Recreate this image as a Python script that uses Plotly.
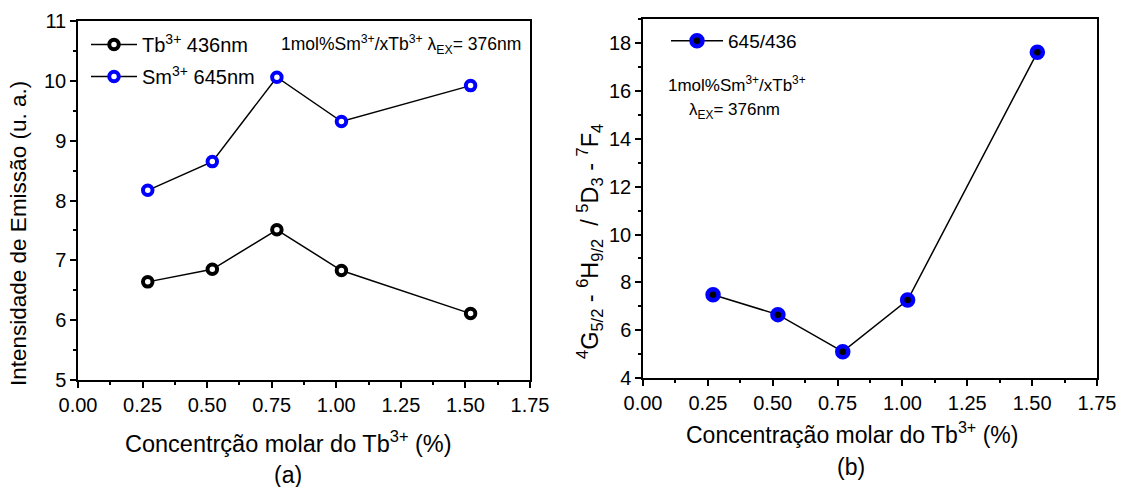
import plotly.graph_objects as go

# Tb3+ molar concentration (%)
conc = [0.27, 0.52, 0.77, 1.02, 1.52]
# Emission intensity (a.u.) for each band
tb_436 = [6.64, 6.85, 7.51, 6.83, 6.11]
sm_645 = [8.17, 8.65, 10.06, 9.32, 9.92]
# Intensity ratio 645 nm / 436 nm
ratio_645_436 = [7.48, 6.65, 5.10, 7.26, 17.62]

x_tick_vals = [0.0, 0.25, 0.5, 0.75, 1.0, 1.25, 1.5, 1.75]
x_tick_text = ["0.00", "0.25", "0.50", "0.75", "1.00", "1.25", "1.50", "1.75"]

W, H = 1125, 487
FONT = "Liberation Sans, Arial, sans-serif"


def px_x(p):
    return p / W


def px_y(p):
    return 1 - p / H


LX = [px_x(78), px_x(530)]
LY = [px_y(380), px_y(21)]
RX = [px_x(643), px_x(1097)]
RY = [px_y(378), px_y(19.3)]

fig = go.Figure()

fig.add_trace(go.Scatter(
    x=conc, y=tb_436, mode="lines+markers", name="Tb<sup>3+</sup> 436nm",
    line=dict(color="black", width=1.5),
    marker=dict(symbol="circle", size=9.5, color="white", line=dict(color="black", width=4)),
    xaxis="x", yaxis="y", legend="legend", legendgroup="tb",
))
fig.add_trace(go.Scatter(
    x=conc, y=sm_645, mode="lines+markers", name="Sm<sup>3+</sup> 645nm",
    line=dict(color="black", width=1.5),
    marker=dict(symbol="circle", size=9.5, color="white", line=dict(color="#0000ff", width=4)),
    xaxis="x", yaxis="y", legend="legend", legendgroup="sm",
))
fig.add_trace(go.Scatter(
    x=conc, y=ratio_645_436, mode="lines+markers", name="645/436",
    line=dict(color="black", width=1.5),
    marker=dict(symbol="circle", size=11, color="black", line=dict(color="#0000ff", width=4.5)),
    xaxis="x2", yaxis="y2", legend="legend2",
))

tick_font = dict(family=FONT, size=20, color="black")


def main_axis(domain, anchor, rng, dtick, minor_dtick, **kw):
    d = dict(
        domain=domain, anchor=anchor, range=rng, automargin=False,
        showline=True, linecolor="black", linewidth=1.5, mirror=True,
        ticks="outside", ticklen=6, tickwidth=1.5, tickcolor="black",
        minor=dict(ticks="outside", ticklen=3.5, tickwidth=1.5, tickcolor="black",
                   dtick=minor_dtick),
        showgrid=False, zeroline=False, tickfont=tick_font,
    )
    if dtick is not None:
        d.update(dtick=dtick, tick0=rng[0])
    d.update(kw)
    return d


def mirror_axis(overlay, anchor, side, rng, dtick, minor_dtick):
    return dict(
        overlaying=overlay, anchor=anchor, side=side, range=rng, automargin=False,
        showline=False, showgrid=False, zeroline=False, showticklabels=False,
        ticks="inside", ticklen=6, tickwidth=1.5, tickcolor="black",
        tickmode="linear", tick0=rng[0], dtick=dtick,
        minor=dict(ticks="inside", ticklen=3.5, tickwidth=1.5, tickcolor="black",
                   dtick=minor_dtick),
    )


fig.update_layout(
    width=W, height=H,
    margin=dict(l=0, r=0, t=0, b=0, autoexpand=False),
    paper_bgcolor="white", plot_bgcolor="white",
    font=dict(family=FONT, color="black"),
    xaxis=main_axis(LX, "y", [0, 1.75], None, 0.125,
                    tickmode="array", tickvals=x_tick_vals, ticktext=x_tick_text),
    yaxis=main_axis(LY, "x", [5, 11], 1, 0.5),
    xaxis2=main_axis(RX, "y2", [0, 1.75], None, 0.125,
                     tickmode="array", tickvals=x_tick_vals, ticktext=x_tick_text),
    yaxis2=main_axis(RY, "x2", [4, 19], 2, 1),
    xaxis3=mirror_axis("x", "y", "top", [0, 1.75], 0.25, 0.125),
    yaxis3=mirror_axis("y", "x", "right", [5, 11], 1, 0.5),
    xaxis4=mirror_axis("x2", "y2", "top", [0, 1.75], 0.25, 0.125),
    yaxis4=mirror_axis("y2", "x2", "right", [4, 19], 2, 1),
    legend=dict(x=px_x(86), y=px_y(25), xanchor="left", yanchor="top",
                bgcolor="rgba(0,0,0,0)", font=dict(family=FONT, size=20),
                itemwidth=46, traceorder="grouped", tracegroupgap=3),
    legend2=dict(x=px_x(666), y=px_y(22), xanchor="left", yanchor="top",
                 bgcolor="rgba(0,0,0,0)", font=dict(family=FONT, size=19),
                 itemwidth=52),
    showlegend=True,
)

ann = []
ann.append(dict(text="1mol%Sm<sup>3+</sup>/xTb<sup>3+</sup> λ<sub>EX</sub>= 376nm",
                x=px_x(523), y=px_y(45), xanchor="right", yanchor="middle",
                font=dict(family=FONT, size=17.5)))
ann.append(dict(text="1mol%Sm<sup>3+</sup>/xTb<sup>3+</sup>",
                x=px_x(737), y=px_y(84), xanchor="center", yanchor="middle",
                font=dict(family=FONT, size=17)))
ann.append(dict(text="λ<sub>EX</sub>= 376nm",
                x=px_x(734), y=px_y(111), xanchor="center", yanchor="middle",
                font=dict(family=FONT, size=17)))
# axis titles
ann.append(dict(text="Intensidade de Emissão (u. a.)", textangle=-90,
                x=px_x(18), y=px_y(234), xanchor="center", yanchor="middle",
                font=dict(family=FONT, size=22.5)))
ann.append(dict(text="<sup>4</sup>G<sub>5/2</sub> - <sup>6</sup>H<sub>9/2</sub>  / <sup>5</sup>D<sub>3</sub> - <sup>7</sup>F<sub>4</sub>",
                textangle=-90,
                x=px_x(590), y=px_y(242), xanchor="center", yanchor="middle",
                font=dict(family=FONT, size=23.5)))
ann.append(dict(text="Concentrção molar do Tb<sup>3+</sup> (%)",
                x=px_x(288), y=px_y(442), xanchor="center", yanchor="middle",
                font=dict(family=FONT, size=23.5)))
ann.append(dict(text="(a)", x=px_x(288), y=px_y(475), xanchor="center", yanchor="middle",
                font=dict(family=FONT, size=23)))
ann.append(dict(text="Concentração molar do Tb<sup>3+</sup> (%)",
                x=px_x(852), y=px_y(433), xanchor="center", yanchor="middle",
                font=dict(family=FONT, size=23)))
ann.append(dict(text="(b)", x=px_x(851), y=px_y(467), xanchor="center", yanchor="middle",
                font=dict(family=FONT, size=23)))

for a in ann:
    a.update(xref="paper", yref="paper", showarrow=False)
fig.update_layout(annotations=ann)

fig.write_html("out.html")
